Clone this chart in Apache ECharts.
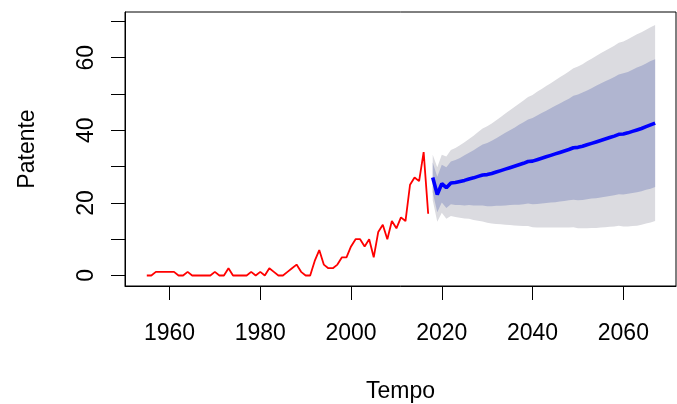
<!DOCTYPE html>
<html>
<head>
<meta charset="utf-8">
<script src="https://cdn.jsdelivr.net/npm/echarts@6/dist/echarts.min.js"></script>
<style>html,body{margin:0;padding:0;background:#fff;}#c{width:677px;height:404px;}</style>
</head>
<body>
<div id="c"></div>
<script>
// Historical series (1955-2017)
var histYears = [];
for (var y = 1955; y <= 2017; y++) histYears.push(y);
var histValues = [
  0, 0, 1, 1, 1, 1, 1, 0, 0, 1,   // 1955-1964
  0, 0, 0, 0, 0, 1, 0, 0, 2, 0,   // 1965-1974
  0, 0, 0, 1, 0, 1, 0, 2, 1, 0,   // 1975-1984
  0, 1, 2, 3, 1, 0, 0, 4, 7, 3,   // 1985-1994
  2, 2, 3, 5, 5, 8, 10, 10, 8, 10, // 1995-2004
  5, 12, 14, 10, 15, 13, 16, 15, 25, 27, // 2005-2014
  26, 34, 17                       // 2015-2017
];

// Forecast (2018-2067)
var fcYears = [];
for (var y2 = 2018; y2 <= 2067; y2++) fcYears.push(y2);
var fcMean = [
  27.0, 22.3, 25.3, 24.2, 25.5, 25.6, 25.9, 26.2, 26.6, 26.9,
  27.3, 27.7, 27.8, 28.1, 28.5, 28.9, 29.3, 29.7, 30.1, 30.5,
  30.9, 31.4, 31.5, 31.9, 32.3, 32.7, 33.1, 33.5, 33.9, 34.3,
  34.7, 35.2, 35.3, 35.6, 36.0, 36.4, 36.8, 37.2, 37.6, 38.0,
  38.4, 38.9, 39.0, 39.3, 39.7, 40.1, 40.5, 41.0, 41.5, 42.0
];
var lo95 = [
  20.7, 14.8, 17.3, 15.6, 16.4, 16.1, 15.9, 15.7, 15.6, 15.3,
  15.1, 14.9, 14.5, 14.3, 14.2, 14.1, 14.0, 13.9, 13.8, 13.7,
  13.6, 13.6, 13.3, 13.2, 13.2, 13.2, 13.2, 13.2, 13.2, 13.2,
  13.2, 13.3, 13.0, 13.0, 13.0, 13.1, 13.1, 13.2, 13.3, 13.4,
  13.5, 13.7, 13.5, 13.5, 13.6, 13.7, 14.0, 14.3, 14.6, 15.0
];
var lo80 = [
  22.9, 17.4, 20.1, 18.6, 19.6, 19.4, 19.4, 19.3, 19.4, 19.3,
  19.3, 19.3, 19.1, 19.1, 19.2, 19.2, 19.3, 19.4, 19.5, 19.5,
  19.6, 19.8, 19.6, 19.7, 19.8, 20.0, 20.1, 20.2, 20.4, 20.5,
  20.7, 20.9, 20.7, 20.8, 21.0, 21.2, 21.3, 21.5, 21.7, 21.9,
  22.1, 22.4, 22.3, 22.5, 22.7, 22.9, 23.2, 23.6, 23.9, 24.4
];
var hi80 = [
  31.1, 27.2, 30.5, 29.8, 31.4, 31.8, 32.4, 33.1, 33.8, 34.5,
  35.3, 36.1, 36.5, 37.1, 37.8, 38.6, 39.3, 40.0, 40.7, 41.5,
  42.2, 43.0, 43.4, 44.1, 44.8, 45.4, 46.1, 46.8, 47.4, 48.1,
  48.7, 49.5, 49.9, 50.4, 51.0, 51.6, 52.3, 52.9, 53.5, 54.1,
  54.7, 55.4, 55.7, 56.1, 56.7, 57.3, 57.8, 58.4, 59.1, 59.6
];
var hi95 = [
  33.3, 29.8, 33.3, 32.8, 34.6, 35.1, 35.9, 36.7, 37.6, 38.5,
  39.5, 40.5, 41.1, 41.9, 42.8, 43.7, 44.6, 45.5, 46.4, 47.3,
  48.2, 49.2, 49.7, 50.6, 51.4, 52.2, 53.0, 53.8, 54.6, 55.4,
  56.2, 57.1, 57.6, 58.2, 59.0, 59.7, 60.5, 61.2, 61.9, 62.6,
  63.3, 64.1, 64.5, 65.1, 65.8, 66.5, 67.0, 67.7, 68.4, 69.0
];

var xTicks = [1960, 1980, 2000, 2020, 2040, 2060];
var yTicks = [0, 10, 20, 30, 40, 50, 60, 70];
var yLabels = [0, 20, 40, 60];

function pairs(xs, ys) { return xs.map(function (x, i) { return [x, ys[i]]; }); }

var FONT = 'Liberation Sans, Arial, Helvetica, sans-serif';
var LIGHT = '#dbdbe0';
var DARK = '#b0b5d0';

// bands: [lower array, upper array, colour] (95% outer first, 80% on top)
var bands = [
  { lo: lo95, hi: hi95, color: LIGHT },
  { lo: lo80, hi: hi80, color: DARK }
];

function renderBand(params, api) {
  var b = bands[params.dataIndex];
  var pts = [];
  for (var i = 0; i < fcYears.length; i++) pts.push(api.coord([fcYears[i], b.hi[i]]));
  for (var j = fcYears.length - 1; j >= 0; j--) pts.push(api.coord([fcYears[j], b.lo[j]]));
  return {
    type: 'polygon',
    shape: { points: pts },
    style: { fill: b.color, stroke: null, lineWidth: 0 },
    silent: true
  };
}

var chart = echarts.init(document.getElementById('c'), null, { renderer: 'canvas' });
chart.setOption({
  backgroundColor: '#ffffff',
  animation: false,
  grid: {
    left: 125, right: 1, top: 12, bottom: 118,
    show: true, borderColor: '#000', borderWidth: 1, backgroundColor: 'transparent',
    outerBoundsMode: 'none', containLabel: false
  },
  xAxis: {
    type: 'value', min: 1950.2, max: 2071.6,
    name: 'Tempo', nameLocation: 'middle', nameGap: 94,
    nameTextStyle: { fontFamily: FONT, fontSize: 23, color: '#000' },
    splitLine: { show: false },
    axisLine: { show: true, onZero: false, lineStyle: { color: '#000', width: 1 } },
    axisTick: { show: true, length: 14, inside: false, customValues: xTicks, lineStyle: { color: '#000', width: 1 } },
    axisLabel: {
      customValues: xTicks, fontFamily: FONT, fontSize: 23, color: '#000', margin: 36,
      formatter: function (v) { return String(Math.round(v)); }
    }
  },
  yAxis: {
    type: 'value', min: -2.9, max: 72.6,
    name: 'Patente', nameLocation: 'middle', nameGap: 86, nameRotate: 90,
    nameTextStyle: { fontFamily: FONT, fontSize: 23, color: '#000' },
    splitLine: { show: false },
    axisLine: { show: true, onZero: false, lineStyle: { color: '#000', width: 1 } },
    axisTick: { show: true, length: 14, inside: false, customValues: yTicks, lineStyle: { color: '#000', width: 1 } },
    axisLabel: {
      customValues: yLabels, rotate: 90, fontFamily: FONT, fontSize: 23, color: '#000', margin: 27,
      formatter: function (v) { return String(Math.round(v)); }
    }
  },
  series: [
    {
      type: 'custom', name: 'bands', renderItem: renderBand,
      data: [[0], [1]], z: 1, silent: true, animation: false, clip: true
    },
    {
      type: 'line', name: 'Patente', data: pairs(histYears, histValues), symbol: 'none',
      lineStyle: { color: '#ff0000', width: 1.8 }, z: 3, animation: false
    },
    {
      type: 'line', name: 'Previsão', data: pairs(fcYears, fcMean), symbol: 'none',
      lineStyle: { color: '#0000ff', width: 3.6 }, z: 4, animation: false
    }
  ]
});
</script>
</body>
</html>
